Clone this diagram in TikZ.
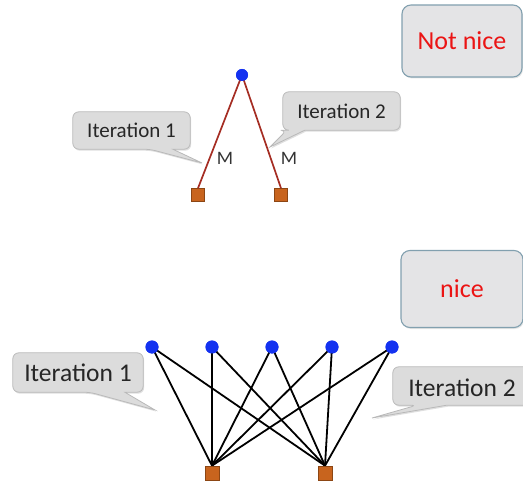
\documentclass[tikz,border=0pt]{standalone}
\usepackage{fontspec}
\setmainfont{Carlito}
\usetikzlibrary{calc,shadows}

\definecolor{dotblue}{RGB}{20,50,240}
\definecolor{sqfill}{RGB}{200,100,30}
\definecolor{sqdraw}{RGB}{140,70,20}
\definecolor{edgered}{RGB}{165,45,35}
\definecolor{callfill}{RGB}{220,220,220}
\definecolor{calldraw}{RGB}{185,185,185}
\definecolor{notefill}{RGB}{228,228,230}
\definecolor{notedraw}{RGB}{130,160,175}
\definecolor{notetext}{RGB}{235,20,20}

\tikzset{
  vtx/.style={circle, fill=dotblue, inner sep=0pt, minimum size=12pt},
  fac/.style={rectangle, fill=sqfill, draw=sqdraw, line width=0.6pt, inner sep=0pt, minimum size=13pt},
  calltext/.style={inner sep=0pt},
  callshape/.style={fill=callfill, draw=calldraw, line width=0.8pt,
    drop shadow={opacity=0.25, shadow xshift=1pt, shadow yshift=-1.5pt}},
  note/.style={rectangle, rounded corners=9pt, fill=notefill, draw=notedraw, line width=1.1pt,
    text=notetext, font=\fontsize{26}{30}\selectfont,
    drop shadow={opacity=0.2, shadow xshift=1pt, shadow yshift=-1.5pt}},
  redge/.style={draw=edgered, line width=1.7pt},
  bedge/.style={draw=black, line width=1.8pt},
  mlabel/.style={font=\fontsize{19}{22}\selectfont, inner sep=0pt, text=black!80},
  smalltxt/.style={font=\fontsize{21}{25}\selectfont, text=black!85},
  bigtxt/.style={font=\fontsize{25.5}{30}\selectfont, text=black!85}
}

% speech bubble around a rectangular node: #1 node, #2/#3 tail base offsets from the
% lower-left corner, #4 tail tip
\newcommand\calloutpath[4]{%
  \path[callshape] ($(#1.south west)+(#3,0)$) [rounded corners=6pt]
    -- (#1.south east) -- (#1.north east) -- (#1.north west) -- (#1.south west)
    -- ($(#1.south west)+(#2,0)$) [sharp corners] -- (#4) -- cycle;}

\begin{document}
\begin{tikzpicture}[x=1pt, y=-1pt]
\useasboundingbox (0,0) rectangle (523,487);
\clip (0,0) rectangle (523,487);

% ---------- upper graph ----------
\node[note, minimum width=120pt, minimum height=72pt] (bad) at (462,41) {Not nice};

\node[calltext, minimum width=117pt, minimum height=37pt] (i1) at (131.5,130.5) {};
\node[calltext, minimum width=117pt, minimum height=38pt] (i2) at (341.5,111) {};
\coordinate (t1) at (202,163);
\coordinate (t2) at (270,147);
\calloutpath{i1}{77}{100}{t1}
\calloutpath{i2}{4}{22}{t2}
\node[smalltxt] at (i1) {Iteration 1};
\node[smalltxt] at (i2) {Iteration 2};

\node[vtx] (v) at (242,75) {};
\node[fac] (fa) at (198,195) {};
\node[fac] (fb) at (281,195) {};
\draw[redge] (v.center) -- (fa.north);
\draw[redge] (v.center) -- (fb.north);
\node[vtx] at (v) {};
\node[mlabel] at (225,158) {M};
\node[mlabel] at (289,158) {M};

% ---------- lower graph ----------
\node[note, minimum width=122pt, minimum height=77pt] (good) at (462,289) {nice};

\node[calltext, minimum width=130pt, minimum height=39pt] (j1) at (78,372.5) {};
\node[calltext, minimum width=140pt, minimum height=38pt] (j2) at (463,386) {};
\coordinate (s1) at (155,410);
\coordinate (s2) at (372,418);
\calloutpath{j1}{77}{112}{s1}
\calloutpath{j2}{24}{54}{s2}
\node[bigtxt] at (j1) {Iteration 1};
\node[bigtxt] at (462,388) {Iteration 2};

\node[fac, minimum size=14pt] (ga) at (212,473) {};
\node[fac, minimum size=14pt] (gb) at (325,473) {};
\foreach \i/\x in {1/152,2/212,3/272,4/332,5/392} {
  \node[vtx, minimum size=13pt] (u\i) at (\x,347) {};
}
% every upper vertex is joined to both lower squares
\foreach \i in {1,...,5} {
  \draw[bedge] (u\i.center) -- (ga.north);
  \draw[bedge] (u\i.center) -- (gb.north);
}
\foreach \i in {1,...,5} {
  \node[vtx, minimum size=13pt] at (u\i) {};
}
\node[fac, minimum size=14pt] at (ga) {};
\node[fac, minimum size=14pt] at (gb) {};
\end{tikzpicture}
\end{document}
